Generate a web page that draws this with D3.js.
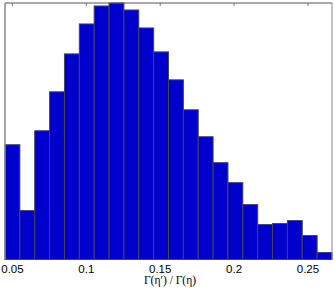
<!DOCTYPE html>
<html>
<head>
<meta charset="utf-8">
<script src="https://cdn.jsdelivr.net/npm/d3@7"></script>
<style>
  body { margin: 0; background: #fff; }
  svg { display: block; }
</style>
</head>
<body>
<div id="chart"></div>
<script>
// histogram counts, 22 equal bins between xMin and xMax
const counts = [115, 49, 129, 168, 206, 236, 254, 257, 250, 232, 208, 180,
                150, 123, 97, 77, 55, 35, 36, 39, 24, 7];
const xMin = 0.0453;
const xMax = 0.2666;
const tickValues = [0.05, 0.1, 0.15, 0.2, 0.25];
const tickLabels = ["0.05", "0.1", "0.15", "0.2", "0.25"];
const xLabel = "Γ(η′) / Γ(η)";

const W = 335, H = 291;
const margin = { top: 3, right: 3, bottom: 31.5, left: 5 };
const width = W - margin.left - margin.right;
const height = H - margin.top - margin.bottom;

const svg = d3.select("#chart").append("svg")
    .attr("width", W)
    .attr("height", H);

const g = svg.append("g")
    .attr("transform", "translate(" + margin.left + "," + margin.top + ")");

const x = d3.scaleLinear().domain([xMin, xMax]).range([0, width]);
const y = d3.scaleLinear().domain([0, d3.max(counts)]).range([height, 0]);

const binW = (xMax - xMin) / counts.length;
const bins = counts.map((c, i) => ({ x0: xMin + i * binW, x1: xMin + (i + 1) * binW, c: c }));

// bars
g.selectAll("rect.bar")
  .data(bins)
  .enter().append("rect")
    .attr("class", "bar")
    .attr("x", d => x(d.x0))
    .attr("y", d => y(d.c))
    .attr("width", d => x(d.x1) - x(d.x0))
    .attr("height", d => height - y(d.c))
    .attr("fill", "#0000cc")
    .attr("stroke", "#44445a")
    .attr("stroke-width", 1);

// top axis: inward ticks only
const topAxis = g.append("g")
    .call(d3.axisTop(x).tickValues(tickValues).tickSize(-3).tickFormat(""));
topAxis.select(".domain").remove();
topAxis.selectAll(".tick line").attr("stroke", "#777");

// bottom axis labels
const bottomAxis = g.append("g")
    .attr("transform", "translate(0," + height + ")")
    .call(d3.axisBottom(x).tickValues(tickValues).tickSize(0)
      .tickFormat((d, i) => tickLabels[i]).tickPadding(5));
bottomAxis.select(".domain").remove();
bottomAxis.selectAll("text")
    .attr("font-family", "Liberation Sans, Arial, sans-serif")
    .attr("font-size", "11.5px")
    .attr("fill", "#000");

// frame
g.append("line").attr("x1", 0).attr("x2", width).attr("y1", 0).attr("y2", 0)
    .attr("stroke", "#555").attr("stroke-width", 1);
g.append("line").attr("x1", 0).attr("x2", 0).attr("y1", 0).attr("y2", height)
    .attr("stroke", "#888").attr("stroke-width", 1.5);
g.append("line").attr("x1", width).attr("x2", width).attr("y1", 0).attr("y2", height)
    .attr("stroke", "#888").attr("stroke-width", 1);

// x label
svg.append("text")
    .attr("x", 170)
    .attr("y", 283.5)
    .attr("text-anchor", "middle")
    .attr("font-family", "Liberation Serif, Times New Roman, serif")
    .attr("font-size", "11.5px")
    .attr("fill", "#000")
    .text(xLabel);
</script>
</body>
</html>
